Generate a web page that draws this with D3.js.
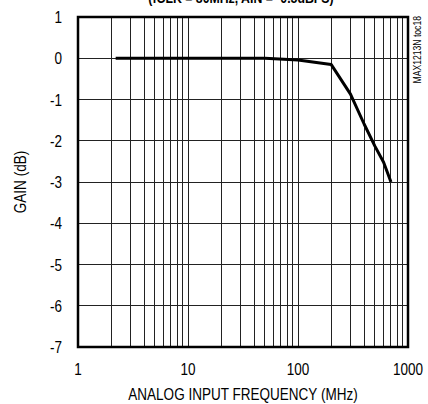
<!DOCTYPE html>
<html><head><meta charset="utf-8">
<script src="https://cdn.jsdelivr.net/npm/d3@7"></script>
<style>body{margin:0;background:#fff}svg{display:block}text{font-family:"Liberation Sans",Arial,sans-serif}</style>
</head><body><div id="chart"></div>
<script>
const freqMHz = [2.2, 10, 50, 100, 200, 300, 400, 500, 600, 700];
const gainDb  = [0, 0, 0, -0.04, -0.15, -0.87, -1.6, -2.13, -2.52, -3.0];
const xTicks = [1, 10, 100, 1000];
const yTicks = [1, 0, -1, -2, -3, -4, -5, -6, -7];
const titleText = "(fCLK = 80MHz, AIN = -0.5dBFS)";
const xLabel = "ANALOG INPUT FREQUENCY (MHz)";
const yLabel = "GAIN (dB)";
const tocLabel = "MAX1213N toc18";

const W = 428, H = 404;
const SX = 0.82; // narrow-font emulation
const m = {l: 78, r: 20, t: 17, b: 57};
const svg = d3.select("#chart").append("svg").attr("width", W).attr("height", H);
const x = d3.scaleLog().domain([1, 1000]).range([m.l, W - m.r]);
const y = d3.scaleLinear().domain([-7, 1]).range([H - m.b, m.t]);

function ntext(g, px, py, rot, str, size, anchor, weight) {
  const t = g.append("text").attr("transform", `translate(${px},${py}) rotate(${rot}) scale(${SX},1)`)
    .attr("text-anchor", anchor).attr("font-size", size).text(str);
  if (weight) t.attr("font-weight", weight);
  return t;
}

const vlines = [];
for (let d = 1; d < 1000; d *= 10) for (let k = 1; k <= 9; k++) vlines.push(d * k);
svg.append("g").selectAll("line").data(vlines.filter(v => v > 1)).join("line")
  .attr("x1", d => x(d)).attr("x2", d => x(d)).attr("y1", y(1)).attr("y2", y(-7))
  .attr("stroke", "#222").attr("stroke-width", 1).attr("shape-rendering", "crispEdges");
svg.append("g").selectAll("line").data(yTicks.slice(1, -1)).join("line")
  .attr("x1", x(1)).attr("x2", x(1000)).attr("y1", d => y(d)).attr("y2", d => y(d))
  .attr("stroke", "#222").attr("stroke-width", 1).attr("shape-rendering", "crispEdges");

svg.append("rect").attr("x", x(1)).attr("y", y(1)).attr("width", x(1000) - x(1)).attr("height", y(-7) - y(1))
  .attr("fill", "none").attr("stroke", "#000").attr("stroke-width", 2.5);

svg.append("path").datum(freqMHz.map((f, i) => [f, gainDb[i]]))
  .attr("d", d3.line().x(d => x(d[0])).y(d => y(d[1])))
  .attr("fill", "none").attr("stroke", "#000").attr("stroke-width", 3).attr("stroke-linejoin", "round");

const gy = svg.append("g");
yTicks.forEach(d => ntext(gy, m.l - 16, y(d) + 6, 0, d, 16.5, "end"));
const gx = svg.append("g");
xTicks.forEach(d => ntext(gx, x(d), H - m.b + 28, 0, d, 16.5, "middle"));

ntext(svg, (x(1) + x(1000)) / 2, H - 4, 0, xLabel, 16.5, "middle");
ntext(svg, 26, (y(1) + y(-7)) / 2, -90, yLabel, 16.5, "middle");
ntext(svg, 421, m.t - 1, -90, tocLabel, 10.5, "end");
ntext(svg, 241, 3, 0, titleText, 15, "middle", "bold");
</script></body></html>
